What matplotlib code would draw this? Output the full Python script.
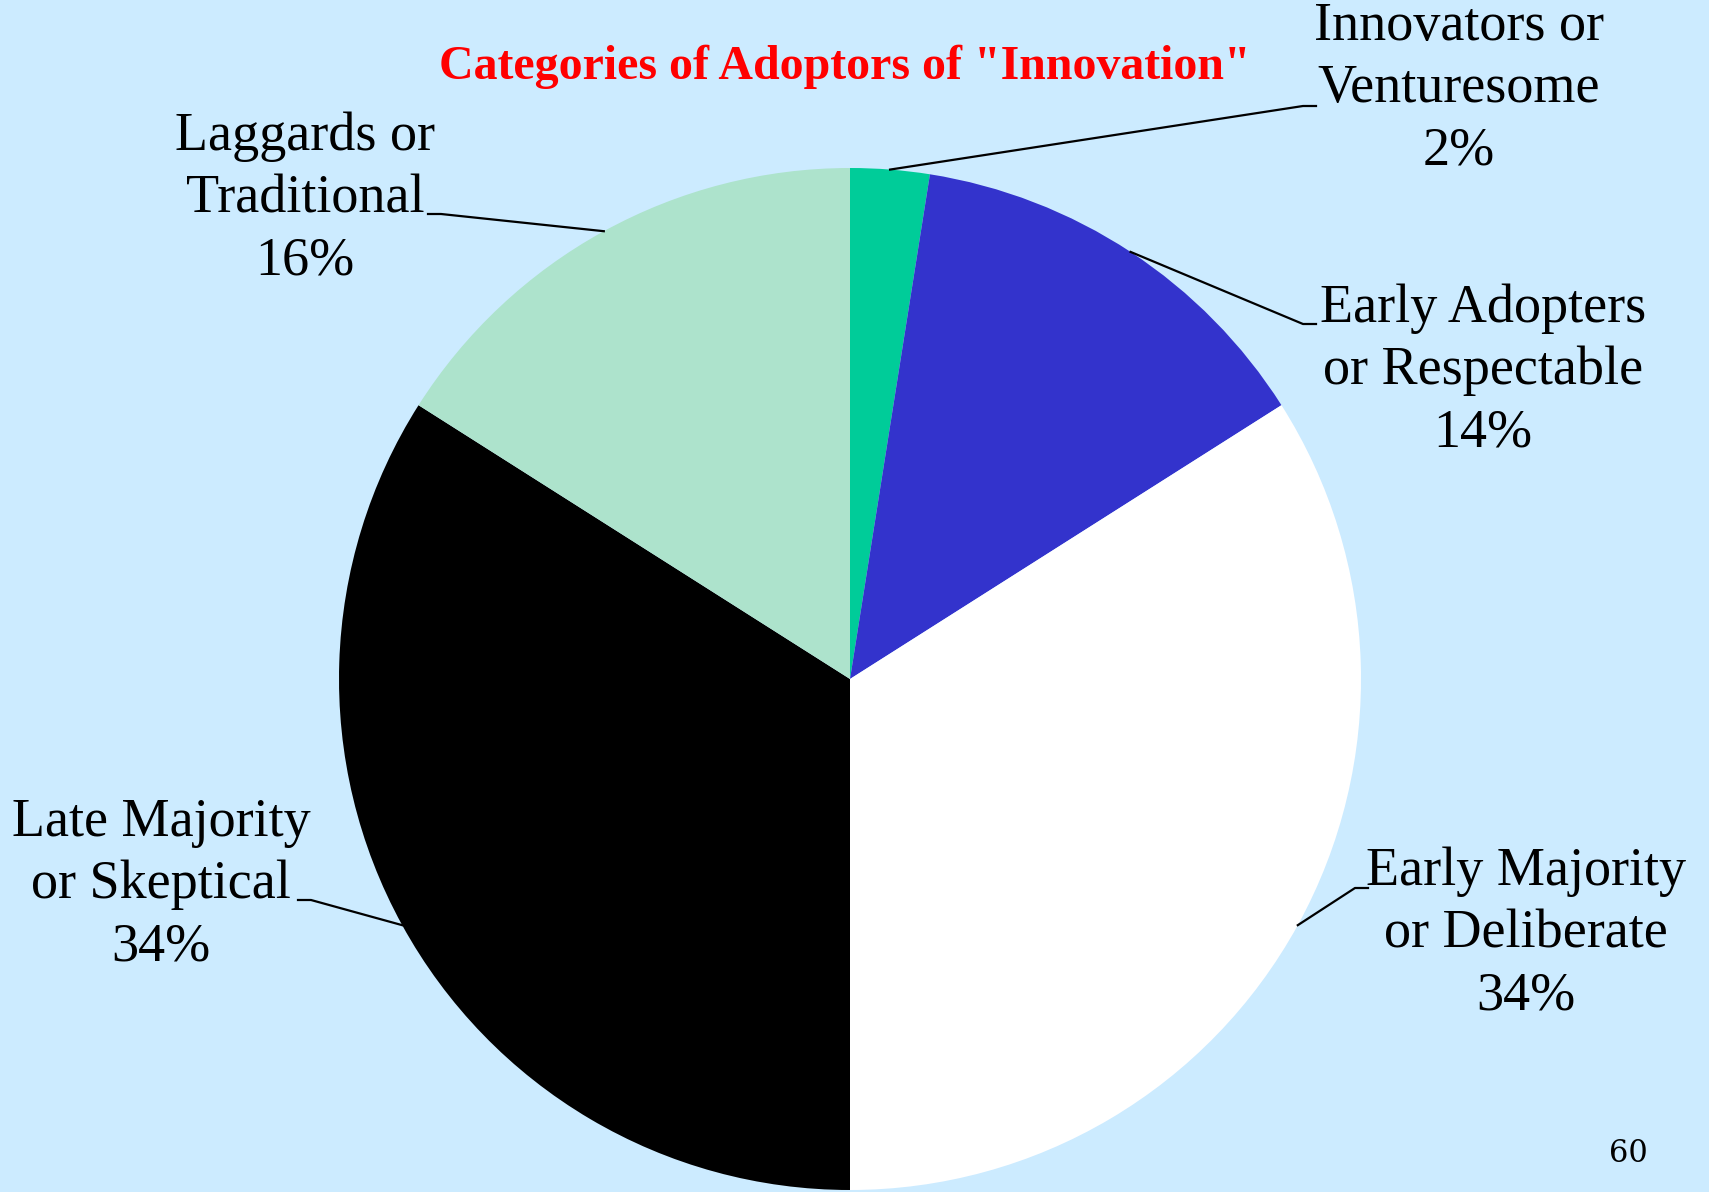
import numpy as np
import matplotlib
matplotlib.use("Agg")
import matplotlib.pyplot as plt

# Rogers adopter categories (share of population, %)
categories = ["Innovators or\nVenturesome", "Early Adopters\nor Respectable",
              "Early Majority\nor Deliberate", "Late Majority\nor Skeptical",
              "Laggards or\nTraditional"]
shares = [2.5, 13.5, 34, 34, 16]
pct_labels = ["2%", "14%", "34%", "34%", "16%"]
colors = ["#00CC99", "#3333CC", "#FFFFFF", "#000000", "#ADE3CC"]

bg = "#CCEBFF"
W, H = 1709, 1192

fig = plt.figure(figsize=(W / 100, H / 100), dpi=100, facecolor=bg)
ax = fig.add_axes([0, 0, 1, 1])
ax.set_facecolor(bg)

cx, cy, r = 850, H - 679, 511
ax.pie(shares, colors=colors, startangle=90, counterclock=False,
       center=(cx, cy), radius=r, wedgeprops=dict(linewidth=0))
ax.set_xlim(0, W)
ax.set_ylim(0, H)
ax.set_aspect("equal")
ax.axis("off")

# label block centre (x, y of middle line) and leader elbow (x, y, side)
label_pos = [(1459, H - 89), (1483, H - 371), (1526, H - 934), (161, H - 885), (305, H - 199)]
elbows = [(1303, H - 106, 1), (1303, H - 324, 1), (1355, H - 888, 1), (311, H - 900, -1), (441, H - 214, -1)]

cum = np.cumsum([0] + shares[:-1])
for i, (name, pct) in enumerate(zip(categories, pct_labels)):
    mid = (cum[i] + shares[i] / 2) / 100 * 2 * np.pi
    ex = cx + r * np.sin(mid)
    ey = cy + r * np.cos(mid)
    bx, by, side = elbows[i]
    ax.plot([ex, bx, bx + side * 13], [ey, by, by], color="black", lw=1.6)
    tx, ty = label_pos[i]
    ax.text(tx, ty, name + "\n" + pct, ha="center", va="center",
            fontsize=39, family="Liberation Serif", linespacing=1.3)

ax.text(845, H - 67, 'Categories of Adoptors of "Innovation"', ha="center", va="center",
        fontsize=34.5, fontweight="bold", color="#FF0000", family="Liberation Serif")
ax.text(1628, H - 1153, "60", ha="center", va="center", fontsize=22,
        family="DejaVu Serif")

fig.savefig("out.png", dpi=100, facecolor=bg)
